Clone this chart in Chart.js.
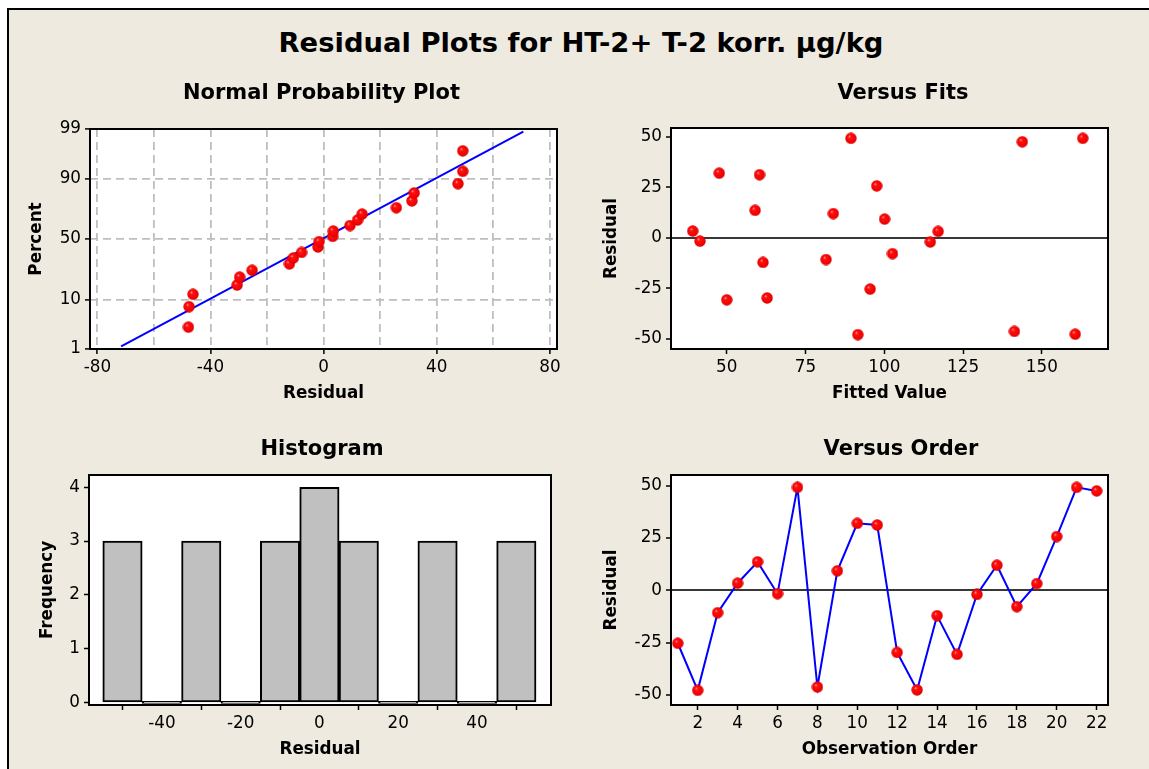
<!DOCTYPE html>
<html>
<head>
<meta charset="utf-8">
<script src="https://cdn.jsdelivr.net/npm/chart.js@4.4.1/dist/chart.umd.min.js"></script>
<style>
  html, body { margin: 0; padding: 0; background: #fff; width: 1149px; height: 769px; overflow: hidden; }
  #sheet { position: absolute; left: 7px; top: 8px; width: 1160px; height: 780px;
           background: #EEEAE0; border-left: 2px solid #000; border-top: 2px solid #000; }
  canvas { position: absolute; }
  .ttl { position: absolute; font-family: "DejaVu Sans"; font-weight: bold; color: #000;
         text-align: center; white-space: nowrap; }
</style>
</head>
<body>
<div id="sheet"></div>
<canvas id="npp"></canvas>
<canvas id="fits"></canvas>
<canvas id="hist"></canvas>
<canvas id="order"></canvas>
<script>
// ---- residual data, listed in observation order ----
const observationOrder = [1, 2, 3, 4, 5, 6, 7, 8, 9, 10, 11, 12, 13, 14, 15, 16, 17, 18, 19, 20, 21, 22];
const residuals = [-25.3, -47.8, -10.7, 3.4, 13.6, -1.6, 49.2, -46.2, 9.3, 32.0, 31.2,
                   -29.7, -47.6, -12.1, -30.6, -2.0, 12.0, -7.8, 3.2, 25.7, 49.2, 47.5];
const fittedValues = [95.5, 91.6, 81.5, 39.2, 59.0, 41.5, 89.4, 141.3, 100.1, 47.6, 60.4,
                      62.8, 160.6, 61.5, 50.0, 114.6, 83.8, 102.6, 117.1, 97.6, 163.0, 143.8];

// normal probability plot: percent for each ranked residual, and the fitted line
const nppPercent = [3.1, 7.6, 12.1, 16.5, 21.0, 25.4, 29.9, 34.4, 38.8, 43.3, 47.8,
                    52.2, 56.7, 61.2, 65.6, 70.1, 74.6, 79.0, 83.5, 87.9, 92.4, 96.9];
const nppFitResidual = [-71.6, 70.6];
const nppFitPercent = [1.15, 98.85];

// histogram bins
const binCenters = [-50, -40, -30, -20, -10, 0, 10, 20, 30, 40, 50];
const binCounts  = [3, 0, 3, 0, 3, 4, 3, 0, 3, 0, 3];

// tick values
const nppXTicks = [-80, -60, -40, -20, 0, 20, 40, 60, 80];
const nppXLabeled = [-80, -40, 0, 40, 80];
const nppYPercents = [1, 10, 50, 90, 99];
const fitsXTicks = [50, 75, 100, 125, 150];
const residualTicks = [-50, -25, 0, 25, 50];
const histXTicks = [-40, -20, 0, 20, 40];
const histYTicks = [0, 1, 2, 3, 4];
const orderXTicks = [2, 4, 6, 8, 10, 12, 14, 16, 18, 20, 22];

// inverse standard normal CDF (Acklam), used for the probability axis
function probit(p) {
  const a = [-3.969683028665376e+01, 2.209460984245205e+02, -2.759285104469687e+02, 1.383577518672690e+02, -3.066479806614716e+01, 2.506628277459239e+00];
  const b = [-5.447609879822406e+01, 1.615858368580409e+02, -1.556989798598866e+02, 6.680131188771972e+01, -1.328068155288572e+01];
  const c = [-7.784894002430293e-03, -3.223964580411365e-01, -2.400758277161838e+00, -2.549732539343734e+00, 4.374664141464968e+00, 2.938163982698783e+00];
  const d = [7.784695709041462e-03, 3.224671290700398e-01, 2.445134137142996e+00, 3.754408661907416e+00];
  const pl = 0.02425, ph = 1 - pl;
  let q, r;
  if (p < pl) {
    q = Math.sqrt(-2 * Math.log(p));
    return (((((c[0]*q+c[1])*q+c[2])*q+c[3])*q+c[4])*q+c[5]) / ((((d[0]*q+d[1])*q+d[2])*q+d[3])*q+1);
  }
  if (p > ph) {
    q = Math.sqrt(-2 * Math.log(1 - p));
    return -(((((c[0]*q+c[1])*q+c[2])*q+c[3])*q+c[4])*q+c[5]) / ((((d[0]*q+d[1])*q+d[2])*q+d[3])*q+1);
  }
  q = p - 0.5; r = q * q;
  return (((((a[0]*r+a[1])*r+a[2])*r+a[3])*r+a[4])*r+a[5])*q / (((((b[0]*r+b[1])*r+b[2])*r+b[3])*r+b[4])*r+1);
}

const FONT = 'DejaVu Sans';
const tickFont = { family: FONT, size: 16.8 };
const axisTitleFont = { family: FONT, size: 16.8, weight: 'bold' };

// shaded red marker
function makeDot() {
  const cv = document.createElement('canvas');
  cv.width = 12; cv.height = 12;
  const g = cv.getContext('2d');
  const grad = g.createRadialGradient(4.3, 4.0, 0.3, 6, 6, 5.8);
  grad.addColorStop(0, '#ff9a9a');
  grad.addColorStop(0.22, '#ff1010');
  grad.addColorStop(0.8, '#f40000');
  grad.addColorStop(1, '#c80000');
  g.fillStyle = grad;
  g.beginPath(); g.arc(6, 6, 5.7, 0, Math.PI * 2); g.fill();
  return cv;
}
const dot = makeDot();

// white plotting area with a black frame
const framePlugin = {
  id: 'frame',
  beforeDraw(chart) {
    const { ctx, chartArea: a } = chart;
    ctx.save();
    ctx.fillStyle = '#fff';
    ctx.fillRect(a.left, a.top, a.right - a.left, a.bottom - a.top);
    ctx.restore();
  },
  afterDraw(chart) {
    const { ctx, chartArea: a } = chart;
    ctx.save();
    ctx.strokeStyle = '#000';
    ctx.lineWidth = 2;
    ctx.strokeRect(a.left, a.top, a.right - a.left, a.bottom - a.top);
    ctx.restore();
  }
};

// canvas box [left, top, width, height] and plot box [left, top, right, bottom] in page pixels
function layoutFor(canvasBox, plotBox, xTitleY, yTitleX) {
  const lh = axisTitleFont.size * 1.2;
  const [cl, ct, cw, ch] = canvasBox;
  const [pl, pt, pr, pb] = plotBox;
  const xH = xTitleY - pb + lh / 2;
  return {
    canvasBox,
    yWidth: pl - cl,
    xHeight: xH,
    padding: { left: 0, top: pt - ct, right: cl + cw - pr, bottom: ct + ch - pb - xH },
    yTitlePad: (yTitleX - cl) - lh / 2
  };
}

function makeAxis(kind, L, o) {
  const isX = kind === 'x';
  return {
    type: 'linear', min: o.min, max: o.max, offset: false,
    afterBuildTicks(s) { s.ticks = o.values.map(v => ({ value: v })); },
    afterFit(s) { if (isX) s.height = L.xHeight; else s.width = L.yWidth; },
    ticks: {
      autoSkip: false, maxRotation: 0, minRotation: 0, padding: 4, color: '#000', font: tickFont,
      callback: o.label || (v => String(v))
    },
    grid: Object.assign({
      drawOnChartArea: false, drawTicks: true, tickLength: 5, tickWidth: 1.5,
      tickColor: '#000', color: 'rgba(0,0,0,0)'
    }, o.grid || {}),
    border: Object.assign({ display: false }, o.border || {}),
    title: {
      display: true, text: o.title, color: '#000', font: axisTitleFont,
      padding: isX ? { top: 0, bottom: 0 } : { top: L.yTitlePad, bottom: 0 }
    }
  };
}

function setupCanvas(id, L) {
  const [cl, ct, cw, ch] = L.canvasBox;
  const cv = document.getElementById(id);
  cv.width = cw; cv.height = ch;
  cv.style.left = cl + 'px'; cv.style.top = ct + 'px';
  cv.style.width = cw + 'px'; cv.style.height = ch + 'px';
  return cv;
}

function baseOptions(L, x, y) {
  return {
    responsive: false, animation: false, events: [], devicePixelRatio: 1,
    layout: { padding: L.padding },
    plugins: { legend: { display: false }, tooltip: { enabled: false }, title: { display: false } },
    scales: { x, y }
  };
}

function addTitle(text, cx, capCenterY, size) {
  const el = document.createElement('div');
  el.className = 'ttl';
  el.textContent = text;
  el.style.fontSize = size + 'px';
  el.style.lineHeight = (size * 1.2) + 'px';
  el.style.left = (cx - 400) + 'px';
  el.style.width = '800px';
  el.style.top = (capCenterY - 0.5815 * size) + 'px';
  document.body.appendChild(el);
}

addTitle('Residual Plots for HT-2+ T-2 korr. µg/kg', 581, 42.5, 27.4);
addTitle('Normal Probability Plot', 321.5, 92.5, 21);
addTitle('Versus Fits', 903, 92.5, 21);
addTitle('Histogram', 322, 448, 21);
addTitle('Versus Order', 901, 448, 21);

const zeroLine = c => (c.tick && c.tick.value === 0 ? '#383838' : 'rgba(0,0,0,0)');

// ---------- Normal Probability Plot ----------
{
  const L = layoutFor([9, 100, 580, 310], [90, 129, 557, 349], 393.3, 36.5);
  const cv = setupCanvas('npp', L);
  const sorted = residuals.slice().sort((a, b) => a - b);
  const zTicks = nppYPercents.map(p => probit(p / 100));
  const x = makeAxis('x', L, {
    min: -82.6, max: 82.5, values: nppXTicks, title: 'Residual',
    label: v => (nppXLabeled.includes(v) ? String(v) : ''),
    grid: {
      drawOnChartArea: true, color: '#BEBEBE', lineWidth: 1.8,
      tickColor: c => (c.tick && nppXLabeled.includes(c.tick.value) ? '#000' : 'rgba(0,0,0,0)')
    },
    border: { dash: [8, 5] }
  });
  const y = makeAxis('y', L, {
    min: zTicks[0] - 0.002, max: zTicks[zTicks.length - 1] + 0.002, values: zTicks, title: 'Percent',
    label: (v, i) => String(nppYPercents[i]),
    grid: { drawOnChartArea: true, color: '#BEBEBE', lineWidth: 1.8 },
    border: { dash: [8, 5] }
  });
  new Chart(cv, {
    type: 'scatter',
    data: {
      datasets: [
        {
          data: sorted.map((r, i) => ({ x: r, y: probit(nppPercent[i] / 100) })),
          pointStyle: dot, pointRadius: 6, order: 0
        },
        {
          data: nppFitResidual.map((r, i) => ({ x: r, y: probit(nppFitPercent[i] / 100) })),
          showLine: true, borderColor: '#0000FF', borderWidth: 2, pointRadius: 0, order: 1
        }
      ]
    },
    options: baseOptions(L, x, y),
    plugins: [framePlugin]
  });
}

// ---------- Versus Fits ----------
{
  const L = layoutFor([592, 100, 550, 310], [671, 128, 1108, 349], 393.3, 611.5);
  const cv = setupCanvas('fits', L);
  const x = makeAxis('x', L, { min: 32.3, max: 171.0, values: fitsXTicks, title: 'Fitted Value' });
  const y = makeAxis('y', L, {
    min: -54.9, max: 54.3, values: residualTicks, title: 'Residual',
    grid: { drawOnChartArea: true, lineWidth: 2, color: zeroLine }
  });
  new Chart(cv, {
    type: 'scatter',
    data: { datasets: [{ data: fittedValues.map((f, i) => ({ x: f, y: residuals[i] })), pointStyle: dot, pointRadius: 6 }] },
    options: baseOptions(L, x, y),
    plugins: [framePlugin]
  });
}

// ---------- Histogram ----------
{
  const L = layoutFor([9, 450, 580, 319], [89, 475, 551, 705], 749.5, 47.5);
  const cv = setupCanvas('hist', L);
  const x = makeAxis('x', L, { min: -58.5, max: 58.8, values: histXTicks, title: 'Residual' });
  const y = makeAxis('y', L, { min: -0.05, max: 4.23, values: histYTicks, title: 'Frequency' });
  new Chart(cv, {
    type: 'bar',
    data: {
      datasets: [{
        data: binCenters.map((b, i) => ({ x: b, y: binCounts[i] })),
        backgroundColor: '#C0C0C0', borderColor: '#000', borderWidth: 2, borderSkipped: false,
        barPercentage: 1, categoryPercentage: 1, minBarLength: 2
      }]
    },
    options: baseOptions(L, x, y),
    plugins: [framePlugin]
  });
}

// ---------- Versus Order ----------
{
  const L = layoutFor([592, 450, 550, 319], [671, 475, 1108, 705], 749.5, 611.5);
  const cv = setupCanvas('order', L);
  const x = makeAxis('x', L, { min: 0.66, max: 22.57, values: orderXTicks, title: 'Observation Order' });
  const y = makeAxis('y', L, {
    min: -54.8, max: 55.1, values: residualTicks, title: 'Residual',
    grid: { drawOnChartArea: true, lineWidth: 2, color: zeroLine }
  });
  new Chart(cv, {
    type: 'scatter',
    data: {
      datasets: [{
        data: observationOrder.map((o, i) => ({ x: o, y: residuals[i] })),
        showLine: true, borderColor: '#0000FF', borderWidth: 2, pointStyle: dot, pointRadius: 6
      }]
    },
    options: baseOptions(L, x, y),
    plugins: [framePlugin]
  });
}
</script>
</body>
</html>
